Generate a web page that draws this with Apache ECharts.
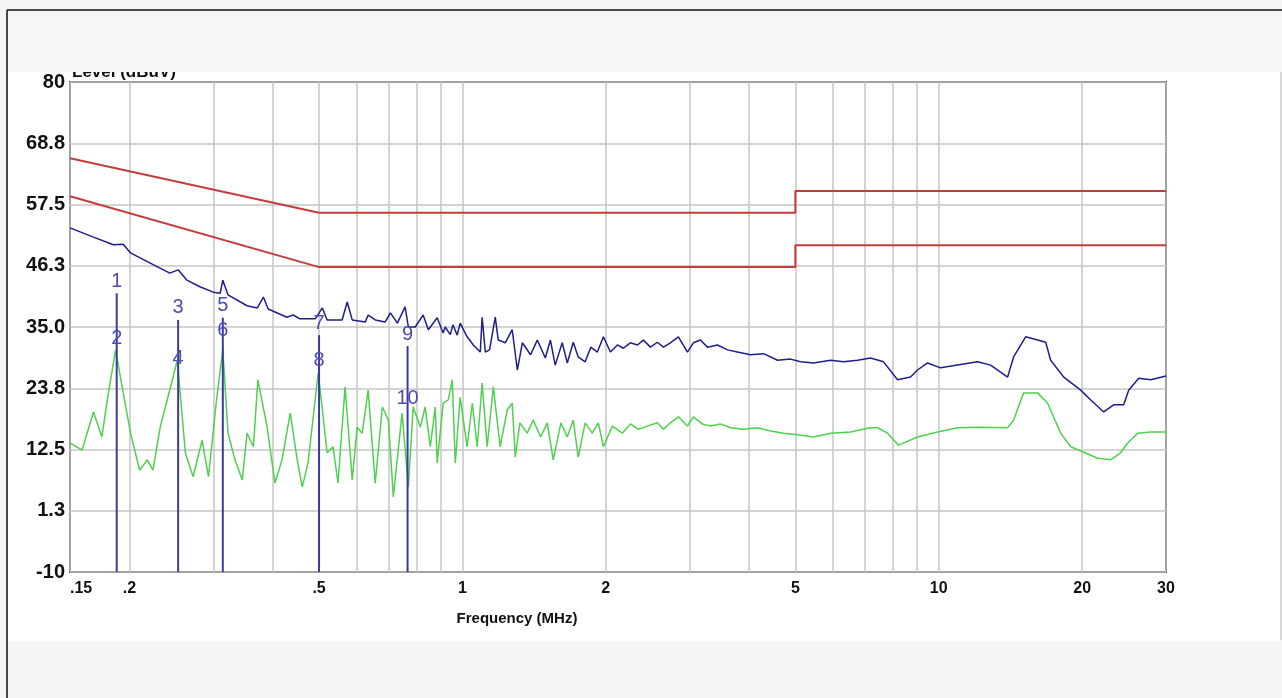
<!DOCTYPE html>
<html>
<head>
<meta charset="utf-8">
<title>Conducted emission</title>
<script src="https://cdn.jsdelivr.net/npm/echarts@6/dist/echarts.min.js"></script>
<style>
    html, body { margin: 0; padding: 0; background: #f5f5f5; }
    #main { width: 1282px; height: 698px; }
</style>
</head>
<body>
<div id="main"></div>
<script>
// x axis (MHz, log) - grid lines and labelled ticks
var gridFreqs = [0.15, 0.2, 0.3, 0.4, 0.5, 0.6, 0.7, 0.8, 0.9, 1, 2, 3, 4, 5, 6, 7, 8, 9, 10, 20, 30];
var freqTicks = [0.15, 0.2, 0.5, 1, 2, 5, 10, 20, 30];
var freqTickText = ['.15', '.2', '.5', '1', '2', '5', '10', '20', '30'];

// y axis (dBuV)
var levelTickText = ['-10', '1.3', '12.5', '23.8', '35.0', '46.3', '57.5', '68.8', '80'];

// limit lines
var limitFreq = [0.15, 0.5, 5, 5, 30];
var limitQP = [66, 56, 56, 60, 60];
var limitAV = [59, 46, 46, 50, 50];

// peak trace (blue)
var peakFreq = [0.150, 0.168, 0.185, 0.194, 0.201, 0.218, 0.243, 0.253, 0.264, 0.281, 0.300, 0.310, 0.314, 0.322,
    0.353, 0.371, 0.382, 0.391, 0.428, 0.441, 0.456, 0.491, 0.508, 0.520, 0.559, 0.573, 0.587, 0.625, 0.634, 0.656,
    0.688, 0.706, 0.730, 0.758, 0.770, 0.796, 0.827, 0.848, 0.885, 0.911, 0.920, 0.943, 0.955, 0.975, 0.989, 1.023,
    1.054, 1.09, 1.100, 1.117, 1.14, 1.172, 1.189, 1.230, 1.272, 1.304, 1.336, 1.39, 1.436, 1.493, 1.53, 1.566,
    1.620, 1.660, 1.709, 1.750, 1.810, 1.86, 1.920, 1.977, 2.045, 2.115, 2.177, 2.252, 2.330, 2.398, 2.481, 2.566,
    2.642, 2.733, 2.841, 2.967, 3.054, 3.16, 3.268, 3.431, 3.602, 3.780, 4.025, 4.286, 4.587, 4.884, 5.13, 5.458,
    5.928, 6.312, 6.754, 7.191, 7.658, 8.194, 8.725, 9.025, 9.472, 10.09, 10.95, 12.07, 12.85, 13.95, 14.36, 15.22,
    16.13, 16.77, 17.18, 18.30, 19.86, 20.85, 22.20, 23.29, 24.45, 25.05, 26.29, 27.87, 30];
var peakLevel = [53.2, 51.5, 50.1, 50.2, 48.6, 47.0, 44.9, 45.5, 43.6, 42.4, 41.4, 41.2, 43.6, 40.9,
    38.9, 38.5, 40.5, 38.3, 36.8, 37.2, 36.5, 36.5, 38.5, 36.3, 36.3, 39.6, 36.3, 35.9, 37.2, 36.3,
    35.9, 37.6, 35.7, 38.7, 35.0, 35.0, 37.2, 34.5, 36.7, 33.9, 35.0, 33.6, 35.4, 33.5, 35.7, 33.2,
    31.7, 30.4, 36.8, 30.4, 30.8, 36.8, 32.6, 32.1, 34.5, 27.1, 32.1, 29.9, 32.6, 29.3, 32.6, 28.0,
    32.1, 28.4, 32.2, 29.5, 28.6, 31.3, 30.4, 33.2, 30.4, 31.7, 31.1, 32.1, 31.7, 32.6, 31.3, 32.2,
    31.3, 32.1, 33.2, 30.4, 32.1, 32.6, 31.3, 31.7, 30.8, 30.4, 29.9, 30.1, 28.9, 29.1, 28.6, 28.4,
    28.9, 28.6, 28.9, 29.3, 28.6, 25.3, 25.8, 27.1, 28.4, 27.5, 28.0, 28.6, 28.0, 25.8, 29.5, 33.2,
    32.6, 32.2, 28.9, 25.8, 23.4, 21.6, 19.4, 20.7, 20.7, 23.4, 25.6, 25.3, 26.0];

// average trace (green)
var avgFreq = [0.150, 0.159, 0.168, 0.175, 0.180, 0.187, 0.194, 0.201, 0.210, 0.218, 0.224, 0.232, 0.240, 0.252,
    0.262, 0.272, 0.284, 0.293, 0.305, 0.314, 0.322, 0.333, 0.345, 0.353, 0.364, 0.372, 0.389, 0.404, 0.418, 0.435,
    0.450, 0.461, 0.474, 0.498, 0.520, 0.535, 0.548, 0.567, 0.587, 0.601, 0.616, 0.634, 0.656, 0.679, 0.699, 0.716,
    0.747, 0.770, 0.788, 0.816, 0.835, 0.856, 0.877, 0.885, 0.911, 0.934, 0.952, 0.966, 0.989, 1.023, 1.049, 1.074,
    1.100, 1.127, 1.161, 1.20, 1.242, 1.272, 1.291, 1.32, 1.368, 1.408, 1.46, 1.507, 1.551, 1.61, 1.660, 1.709,
    1.750, 1.810, 1.873, 1.929, 1.977, 2.064, 2.166, 2.252, 2.341, 2.445, 2.566, 2.642, 2.733, 2.841, 2.967, 3.054,
    3.190, 3.317, 3.48, 3.655, 3.891, 4.164, 4.434, 4.722, 5.052, 5.458, 5.928, 6.530, 7.191, 7.440, 7.807, 8.234,
    9.025, 9.942, 10.95, 12.07, 13.95, 14.36, 15.07, 16.13, 16.93, 18.03, 18.93, 20.16, 21.57, 22.96, 24.09, 24.93,
    26.16, 27.87, 30];
var avgLevel = [13.7, 12.4, 19.4, 14.8, 22.1, 30.8, 22.9, 15.5, 8.7, 10.6, 8.7, 16.6, 21.6, 28.9,
    11.9, 7.5, 14.2, 7.5, 22.1, 30.8, 15.5, 10.6, 6.9, 15.5, 13.0, 25.3, 16.6, 6.3, 10.6, 19.2,
    10.6, 5.6, 10.0, 26.6, 11.9, 13.0, 6.3, 24.0, 6.9, 16.6, 15.5, 23.4, 6.3, 20.3, 17.9, 3.8,
    19.2, 5.6, 20.3, 16.6, 20.3, 13.0, 20.3, 10.0, 21.0, 21.6, 25.3, 10.0, 22.1, 13.0, 21.0, 13.0,
    24.7, 13.0, 24.0, 13.0, 19.8, 21.0, 11.1, 17.4, 15.5, 17.9, 14.8, 17.4, 10.6, 17.4, 14.8, 17.9,
    11.1, 17.4, 15.5, 17.4, 13.0, 16.8, 15.5, 17.2, 16.2, 16.8, 17.4, 16.2, 17.4, 18.5, 16.8, 18.5,
    17.2, 16.8, 17.2, 16.5, 16.2, 16.5, 15.9, 15.5, 15.2, 14.8, 15.5, 15.7, 16.5, 16.5, 15.5, 13.3,
    14.8, 15.7, 16.5, 16.6, 16.5, 17.9, 22.9, 22.9, 21.0, 15.5, 13.0, 12.0, 10.9, 10.6, 11.9, 13.7,
    15.5, 15.7, 15.7];

// markers: odd number = QP reading, even number = AV reading
var markerFreq = [0.188, 0.253, 0.314, 0.500, 0.767];
var markerQP = [41.2, 36.3, 36.7, 33.5, 31.5];
var markerAV = [30.6, 27.1, 32.1, 26.6, 19.6];
var markerQPNo = ['1', '3', '5', '7', '9'];
var markerAVNo = ['2', '4', '6', '8', '10'];

(function () {

    var pairs = function (xs, ys) {
        var out = [];
        for (var i = 0; i < xs.length; i++) {
            out.push([xs[i], ys[i]]);
        }
        return out;
    };

    var markerData = [];
    for (var i = 0; i < markerFreq.length; i++) {
        markerData.push([markerFreq[i], markerQP[i], markerAV[i], i]);
    }

    var plain = '"Liberation Sans", Arial, sans-serif';

    var myChart = echarts.init(document.getElementById('main'), null, { renderer: 'canvas' });

    var option = {
        animation: false,
        backgroundColor: '#f5f5f5',
        graphic: [
            // white sheet behind the plot
            { type: 'rect', z: -10, shape: { x: 8, y: 72, width: 1272, height: 569 }, style: { fill: '#ffffff' } },
            // grey band on top, drawn on its own layer so it hides most of the y axis title
            { type: 'rect', zlevel: 1, shape: { x: 8, y: 11, width: 1274, height: 61 }, style: { fill: '#f6f6f6' } },
            // frame lines
            { type: 'line', zlevel: 1, shape: { x1: 7, y1: 10, x2: 1282, y2: 10 }, style: { stroke: '#111', lineWidth: 1.5 } },
            { type: 'line', zlevel: 1, shape: { x1: 7, y1: 10, x2: 7, y2: 698 }, style: { stroke: '#111', lineWidth: 1.5 } },
            { type: 'line', zlevel: 1, shape: { x1: 1281, y1: 72, x2: 1281, y2: 640 }, style: { stroke: '#bbb', lineWidth: 1 } }
        ],
        grid: {
            left: 70,
            right: 116,
            top: 82,
            bottom: 126,
            show: true,
            backgroundColor: 'transparent',
            borderColor: '#3c3c3c',
            borderWidth: 2
        },
        xAxis: {
            type: 'log',
            logBase: 10,
            min: 0.15,
            max: 30,
            name: 'Frequency (MHz)',
            nameLocation: 'middle',
            nameGap: 39,
            nameTextStyle: {
                fontFamily: plain,
                fontWeight: 'bold',
                fontSize: 15,
                color: '#111',
                padding: [0, 202, 0, 0]
            },
            axisLine: { show: false },
            axisTick: { show: false, customValues: gridFreqs },
            splitLine: { show: true, lineStyle: { color: '#c6c6c6', width: 1.5 } },
            minorSplitLine: { show: false },
            axisLabel: {
                customValues: freqTicks,
                margin: 9,
                fontFamily: plain,
                fontWeight: 'bold',
                fontSize: 16,
                color: '#111',
                alignMinLabel: 'left',
                formatter: function (v) {
                    for (var i = 0; i < freqTicks.length; i++) {
                        if (Math.abs(freqTicks[i] - v) / freqTicks[i] < 1e-4) {
                            return freqTickText[i];
                        }
                    }
                    return '';
                }
            }
        },
        yAxis: {
            type: 'value',
            min: -10,
            max: 80,
            interval: 11.25,
            name: 'Level (dBuV)',
            nameLocation: 'end',
            nameGap: 1,
            nameMoveOverlap: false,
            nameTextStyle: {
                fontFamily: plain,
                fontWeight: 'bold',
                fontSize: 17,
                color: '#111',
                align: 'left',
                verticalAlign: 'bottom',
                padding: [0, 0, 0, 2]
            },
            axisLine: { show: false },
            axisTick: { show: false },
            splitLine: { show: true, lineStyle: { color: '#c6c6c6', width: 1.5 } },
            axisLabel: {
                margin: 5,
                fontFamily: plain,
                fontWeight: 'bold',
                fontSize: 20,
                color: '#111',
                formatter: function (v) {
                    var idx = Math.round((v + 10) / 11.25);
                    return levelTickText[idx] || '';
                }
            }
        },
        series: [
            {
                name: 'QP limit',
                type: 'line',
                data: pairs(limitFreq, limitQP),
                showSymbol: false,
                lineStyle: { color: '#c43c3c', width: 2 },
                z: 3
            },
            {
                name: 'AV limit',
                type: 'line',
                data: pairs(limitFreq, limitAV),
                showSymbol: false,
                lineStyle: { color: '#c43c3c', width: 2 },
                z: 3
            },
            {
                name: 'Peak',
                type: 'line',
                data: pairs(peakFreq, peakLevel),
                showSymbol: false,
                lineStyle: { color: '#1e1e8c', width: 1.5 },
                z: 4
            },
            {
                name: 'Average',
                type: 'line',
                data: pairs(avgFreq, avgLevel),
                showSymbol: false,
                lineStyle: { color: '#4fd04f', width: 1.5 },
                z: 4
            },
            {
                name: 'Markers',
                type: 'custom',
                data: markerData,
                z: 5,
                renderItem: function (params, api) {
                    var f = api.value(0);
                    var idx = api.value(3);
                    var base = api.coord([f, -10]);
                    var top = api.coord([f, api.value(1)]);
                    var av = api.coord([f, api.value(2)]);
                    var font = '20px "Liberation Sans", Arial, sans-serif';
                    return {
                        type: 'group',
                        children: [
                            {
                                type: 'line',
                                shape: { x1: base[0], y1: base[1], x2: top[0], y2: top[1] },
                                style: { stroke: '#3a3aa2', lineWidth: 2 }
                            },
                            {
                                type: 'text',
                                style: {
                                    x: top[0], y: top[1] - 12, text: markerQPNo[idx],
                                    font: font, fill: '#4c4cb4', align: 'center', verticalAlign: 'middle'
                                }
                            },
                            {
                                type: 'text',
                                style: {
                                    x: av[0], y: av[1] - 12, text: markerAVNo[idx],
                                    font: font, fill: '#4c4cb4', align: 'center', verticalAlign: 'middle'
                                }
                            }
                        ]
                    };
                }
            }
        ]
    };

    myChart.setOption(option);
})();
</script>
</body>
</html>
